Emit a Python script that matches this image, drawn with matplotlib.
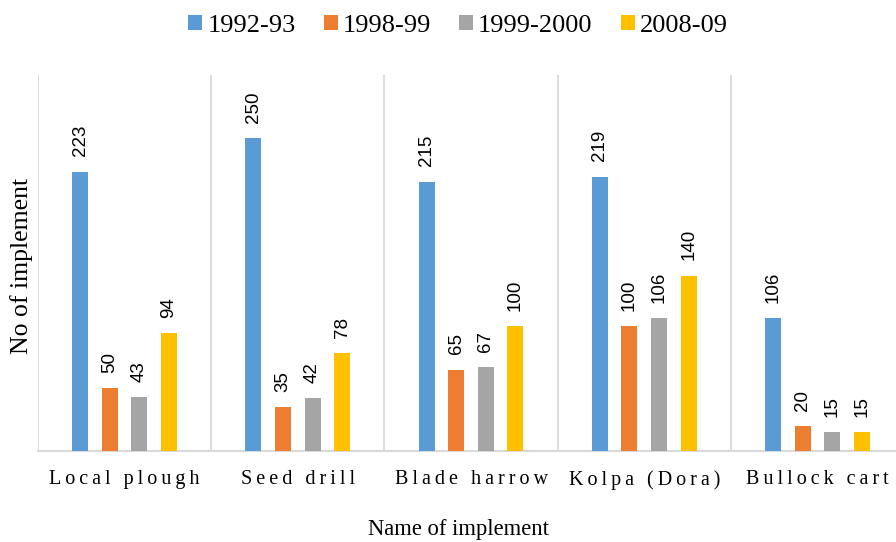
import matplotlib.pyplot as plt
import numpy as np

implements = ['Local plough', 'Seed drill', 'Blade harrow', 'Kolpa (Dora)', 'Bullock cart']
years = ['1992-93', '1998-99', '1999-2000', '2008-09']
v_1992 = [223, 250, 215, 219, 106]
v_1998 = [50, 35, 65, 100, 20]
v_1999 = [43, 42, 67, 106, 15]
v_2008 = [94, 78, 100, 140, 15]
colors = ['#5B9BD5', '#ED7D31', '#A5A5A5', '#FFC000']

serif = 'Liberation Serif'
sans = 'Liberation Sans'

fig = plt.figure(figsize=(8.96, 5.42), dpi=100)
# axes runs slightly past the right edge, like the source
ax = fig.add_axes([38/896, (542-451)/542, 866/896, 376/542])

x = np.arange(len(implements))
w = 0.092
step = 0.171
series = [v_1992, v_1998, v_1999, v_2008]
for i, (vals, c, lab) in enumerate(zip(series, colors, years)):
    pos = x + (i - 1.5) * step
    ax.bar(pos, vals, width=w, color=c, label=lab, zorder=3)
    for xx, v in zip(pos, vals):
        ax.text(xx, v + 12, str(v), rotation=90, ha='center', va='bottom',
                fontsize=13.5, family=sans, color='#000000')

ax.set_xlim(-0.5, len(implements) - 0.5)
ax.set_ylim(0, 300)

for b in np.arange(-0.5, len(implements), 1.0):
    ax.axvline(b, color='#D9D9D9', lw=1.3, zorder=1)

for s in ['top', 'right', 'left']:
    ax.spines[s].set_visible(False)
ax.spines['bottom'].set_color('#D9D9D9')
ax.spines['bottom'].set_linewidth(1.5)
ax.set_yticks([])
ax.set_xticks(x)
thin = '\u2009'
spaced = [thin.join(list(n)) for n in implements]
ax.set_xticklabels(spaced, family=serif, fontsize=14.5)
ax.tick_params(axis='x', length=0, pad=14)

fig.text(22/896, 1 - 266/542, 'No of implement', family=serif, fontsize=18.5,
         rotation=90, ha='center', va='center')
fig.text(458/896, 1 - 529/542, 'Name of implement', family=serif, fontsize=16.3,
         ha='center', va='center')

leg = fig.legend(loc='center', bbox_to_anchor=(458/896, 1 - 26/542), ncol=4,
                 frameon=False, prop={'family': serif, 'size': 19},
                 handlelength=0.53, handleheight=0.5, handletextpad=0.19,
                 columnspacing=1.06, borderpad=0)

fig.savefig('out.png', dpi=100)
